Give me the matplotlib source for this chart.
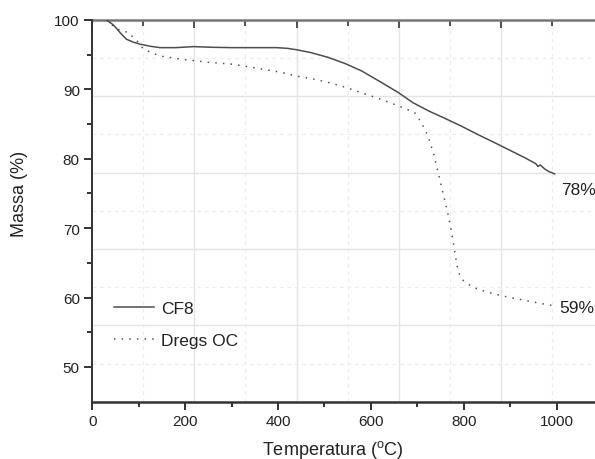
import numpy as np
import matplotlib
matplotlib.use("Agg")
import matplotlib.pyplot as plt

plt.rcParams['font.family'] = ['Liberation Sans', 'DejaVu Sans']
plt.rcParams['mathtext.fontset'] = 'custom'
plt.rcParams['mathtext.rm'] = 'Liberation Sans'

# ---- data ----
t_cf8 = [30, 45, 53, 62, 74, 88, 103, 125, 146, 180, 218, 260, 304, 350, 397, 420, 440,
         470, 508, 545, 580, 620, 660, 690, 724, 760, 795, 830, 867, 900, 930, 955, 960,
         965, 975, 985, 990, 996]
m_cf8 = [100, 99.3, 98.7, 98.0, 97.2, 96.8, 96.5, 96.2, 96.0, 96.0, 96.15, 96.05, 96.0,
         96.0, 96.0, 95.9, 95.7, 95.3, 94.6, 93.7, 92.65, 91.1, 89.5, 88.1, 86.9, 85.8,
         84.7, 83.5, 82.3, 81.2, 80.2, 79.3, 78.9, 79.1, 78.5, 78.1, 78.0, 77.8]

t_dregs = [30, 49, 63, 78, 88, 96, 110, 130, 146, 175, 203, 250, 304, 340, 376, 410, 440,
           475, 508, 545, 580, 620, 652, 675, 695, 709, 723, 735, 745, 756, 767, 775, 781,
           786, 792, 800, 810, 830, 867, 900, 939, 970, 996]
m_dregs = [100, 98.9, 98.4, 98.2, 97.5, 97.0, 95.8, 95.2, 94.8, 94.5, 94.24, 93.9, 93.6,
           93.2, 92.8, 92.4, 91.9, 91.5, 91.0, 90.3, 89.5, 88.6, 87.8, 87.2, 86.6, 85.2,
           83.3, 80.8, 78.0, 74.9, 71.8, 69.0, 66.5, 64.5, 63.1, 62.4, 61.9, 61.2, 60.5,
           60.0, 59.5, 59.1, 58.8]

series_labels = ['CF8', 'Dregs OC']
end_labels = ['78%', '59%']

x_ticks = [0, 200, 400, 600, 800, 1000]
y_ticks = [50, 60, 70, 80, 90, 100]
grid_x_major = [220, 440, 660, 880]
grid_x_minor = [110, 330, 550, 770, 990]
grid_y_major = [56, 67, 78, 89]
grid_y_minor = [50.5, 61.5, 72.5, 83.5, 94.5]
top_major = [0, 220, 440, 660, 880, 1100]
top_minor = [110, 330, 550, 770, 990]

# ---- figure ----
fig = plt.figure(figsize=(5.95, 4.6), dpi=100)
ax = fig.add_axes([0.1551, 0.1246, 0.845, 0.830])

for g in grid_x_major:
    ax.axvline(g, color='#e4e4e4', lw=1.0, zorder=0)
for g in grid_x_minor:
    ax.axvline(g, color='#ececec', lw=0.9, ls=(0, (3, 3)), zorder=0)
for g in grid_y_major:
    ax.axhline(g, color='#e4e4e4', lw=1.0, zorder=0)
for g in grid_y_minor:
    ax.axhline(g, color='#ececec', lw=0.9, ls=(0, (3, 3)), zorder=0)

ax.plot(t_cf8, m_cf8, color='#4d4d4d', lw=1.1, label=series_labels[0])
ax.plot(t_dregs, m_dregs, color='#555555', lw=1.1, ls=(0, (1, 4)),
        label=series_labels[1])

ax.text(1010, 75.6, end_labels[0], fontsize=12.5, color='#222222', va='center', ha='left')
ax.text(1006, 58.5, end_labels[1], fontsize=12.5, color='#222222', va='center', ha='left')

ax.set_xlim(0, 1083)
ax.set_ylim(45, 100)
ax.set_xticks(x_ticks)
ax.set_xticks([100, 300, 500, 700, 900], minor=True)
ax.set_yticks(y_ticks)
ax.set_yticks([55, 65, 75, 85, 95], minor=True)
ax.tick_params(axis='both', which='major', direction='out', length=6, width=1.3,
               labelsize=11, colors='#222222', pad=3)
ax.tick_params(axis='both', which='minor', direction='out', length=3.5, width=1.3,
               colors='#222222')
ax.tick_params(top=False, right=False)

for s in ['top', 'right']:
    ax.spines[s].set_visible(False)
ax.spines['left'].set_linewidth(1.4)
ax.spines['left'].set_color('#333333')
ax.spines['bottom'].set_linewidth(1.8)
ax.spines['bottom'].set_color('#333333')

sec = ax.secondary_xaxis('top')
sec.set_xticks(top_major)
sec.set_xticks(top_minor, minor=True)
sec.tick_params(which='major', direction='in', length=6, width=1.3, colors='#444444',
                labeltop=False)
sec.tick_params(which='minor', direction='in', length=4, width=1.3, colors='#444444')
sec.spines['top'].set_linewidth(1.8)
sec.spines['top'].set_color('#777777')

ax.set_xlabel('Temperatura ($^\\mathregular{o}$C)', fontsize=13, color='#222222')
ax.xaxis.set_label_coords(0.479, -0.125)
ax.xaxis.label.set_verticalalignment('center')
ax.set_ylabel('Massa (%)', fontsize=13, color='#222222')
ax.yaxis.set_label_coords(-0.144, 0.546)
ax.yaxis.label.set_verticalalignment('center')

leg = ax.legend(loc='upper left', bbox_to_anchor=(0.03, 0.282), frameon=False,
                fontsize=12.5, handlelength=2.3, handletextpad=0.4, labelspacing=0.95,
                borderaxespad=0)
for t in leg.get_texts():
    t.set_color('#222222')

fig.savefig('out.png', dpi=100)
